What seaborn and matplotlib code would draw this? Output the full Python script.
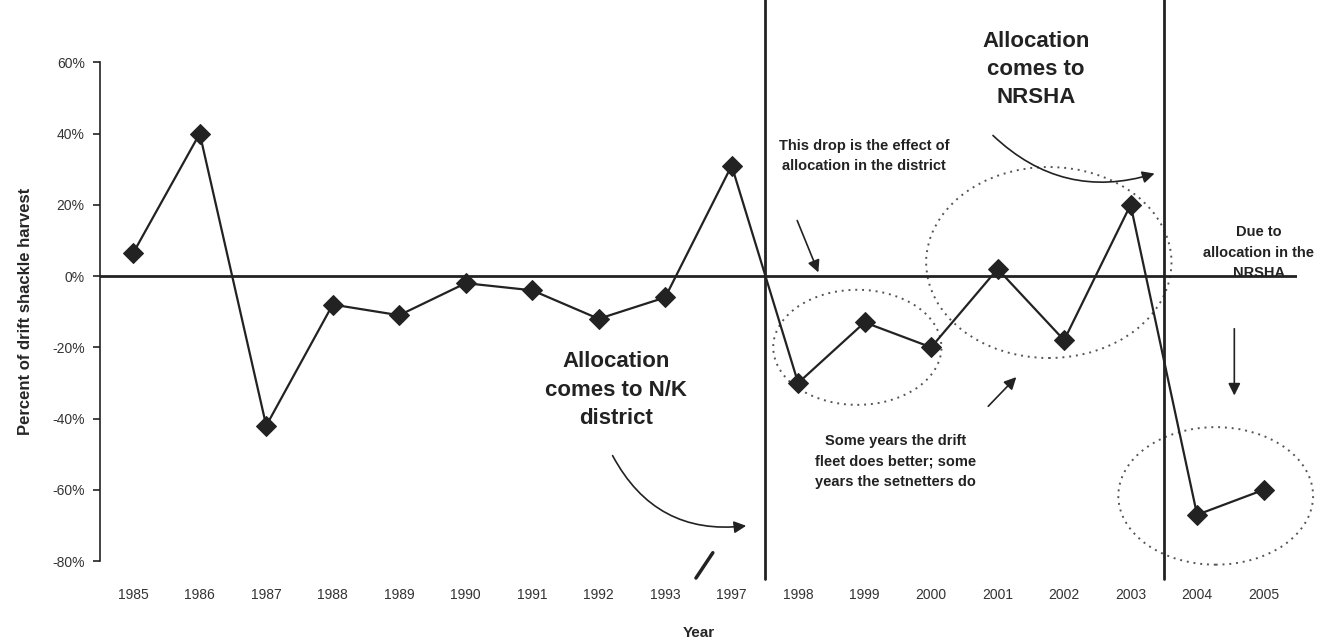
import numpy as np
import pandas as pd
import matplotlib
matplotlib.use("Agg")
import matplotlib.pyplot as plt
from matplotlib.patches import Ellipse
from matplotlib.ticker import PercentFormatter
import seaborn as sns

# drift share of the shackle harvest, change per year (percent)
years = ["1985", "1986", "1987", "1988", "1989", "1990", "1991", "1992", "1993",
         "1997", "1998", "1999", "2000", "2001", "2002", "2003", "2004", "2005"]
pct_change = [6.5, 40, -42, -8, -11, -2, -4, -12, -6,
              31, -30, -13, -20, 2, -18, 20, -67, -60]

df = pd.DataFrame({"pos": np.arange(len(years)), "pct": pct_change})

sns.set_style("white")
plt.rcParams["font.family"] = ["Liberation Sans", "DejaVu Sans"]
plt.rcParams["axes.unicode_minus"] = False

fig = plt.figure(figsize=(13.21, 6.42), dpi=100)
ax = fig.add_axes([0.0757, 0.126, 0.906, 0.777])

ink = "#222222"
sns.lineplot(data=df, x="pos", y="pct", ax=ax, color=ink, lw=1.6,
             marker="D", markersize=10.5, markeredgecolor=ink, zorder=5)

ax.set_xlim(-0.5, len(years) - 0.5)
ax.set_ylim(-80, 60)
ax.set_yticks(np.arange(-80, 61, 20))
ax.yaxis.set_major_formatter(PercentFormatter(decimals=0))
ax.set_xticks(df["pos"])
ax.set_xticklabels(years)

for s in ["top", "right", "bottom"]:
    ax.spines[s].set_visible(False)
ax.spines["left"].set_color(ink)
ax.spines["left"].set_linewidth(1.2)
ax.tick_params(axis="y", left=True, length=5, width=1.2, color=ink,
               labelsize=10, labelcolor="#333333", pad=6)
ax.tick_params(axis="x", bottom=False, labelsize=10, labelcolor="#333333", pad=16)
ax.axhline(0, color=ink, lw=2, zorder=3)

ax.set_xlabel("Year", fontsize=11, fontweight="bold", labelpad=17)
ax.set_ylabel("Percent of drift shackle harvest", fontsize=12,
              fontweight="bold", labelpad=14)

# allocation breaks between categories
for after in ["1998", "2004"]:
    xb = years.index(after) - 0.5
    ax.axvline(xb, ymin=-0.036, ymax=1.14, color=ink, lw=2, clip_on=False, zorder=4)

# dotted groupings
for cx, cy, w, h in [(10.89, -20, 2.53, 32.3), (13.77, 3.8, 3.69, 53.6),
                     (16.28, -61.7, 2.93, 38.6)]:
    ax.add_patch(Ellipse((cx, cy), w, h, fill=False, ls=(0, (1, 2.5)),
                         lw=1.4, ec="#555555", clip_on=False))

big = dict(fontsize=16, fontweight="bold", color=ink, ha="center", va="center",
           linespacing=1.45)
small = dict(fontsize=10.5, fontweight="bold", color=ink, ha="center", va="center",
             linespacing=1.6)

ax.text(13.58, 58, "Allocation\ncomes to\nNRSHA", **big)
ax.text(7.26, -32, "Allocation\ncomes to N/K\ndistrict", **big)
ax.text(10.99, 33.7, "This drop is the effect of\nallocation in the district", **small)
ax.text(11.47, -52, "Some years the drift\nfleet does better; some\nyears the setnetters do",
        **small)
ax.text(16.93, 6.5, "Due to\nallocation in the\nNRSHA", **small)

arr = dict(arrowstyle="-|>", color=ink, lw=1.2, mutation_scale=18)
ax.annotate("", xy=(9.26, -70), xytext=(7.19, -49.7),
            arrowprops=dict(connectionstyle="arc3,rad=0.35", **arr))
ax.annotate("", xy=(15.4, 29), xytext=(12.9, 40),
            arrowprops=dict(connectionstyle="arc3,rad=0.3", **arr))
ax.annotate("", xy=(10.32, 0.3), xytext=(9.97, 16.3), arrowprops=arr)
ax.annotate("", xy=(13.31, -27.8), xytext=(12.83, -37.1), arrowprops=arr)
ax.annotate("", xy=(16.56, -34.3), xytext=(16.56, -14), arrowprops=arr)
ax.annotate("", xy=(8.74, -77), xytext=(8.44, -85.4), annotation_clip=False,
            arrowprops=dict(arrowstyle="-", color=ink, lw=2.5))

fig.savefig("out.png", dpi=100, facecolor="white")
